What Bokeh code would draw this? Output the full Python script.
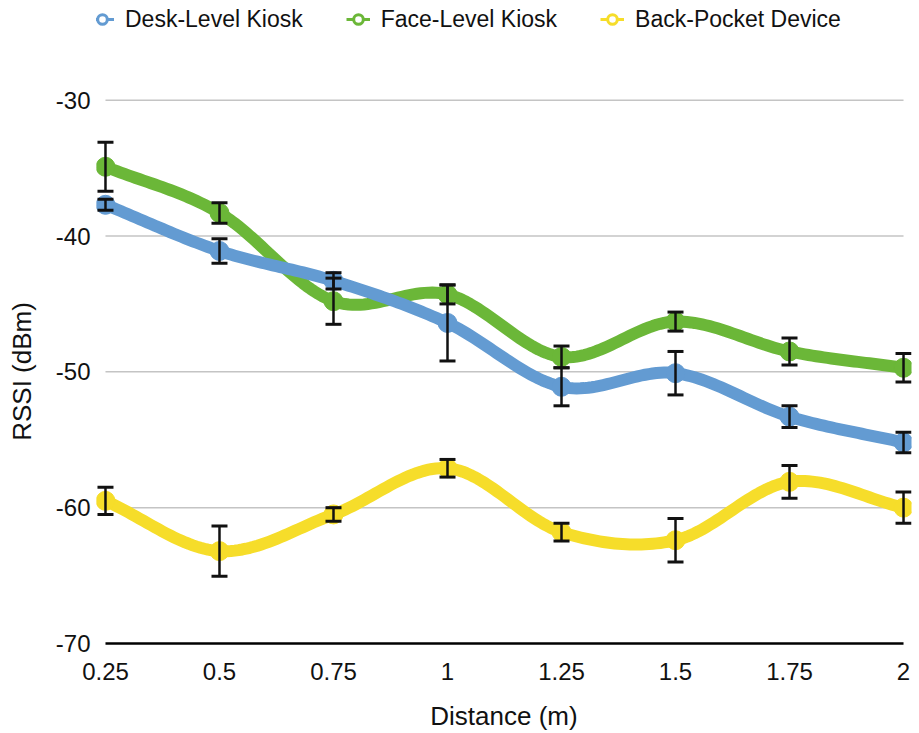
import numpy as np
from bokeh.plotting import figure
from bokeh.layouts import column
from bokeh.models import Range1d, FixedTicker, Legend, LegendItem, Whisker, TeeHead, ColumnDataSource
from bokeh.embed import file_html
from bokeh.resources import INLINE

# ---- data ----
distance = [0.25, 0.5, 0.75, 1.0, 1.25, 1.5, 1.75, 2.0]
x_tick_labels = ["0.25", "0.5", "0.75", "1", "1.25", "1.5", "1.75", "2"]
y_ticks = [-70, -60, -50, -40, -30]
y_tick_labels = ["-70", "-60", "-50", "-40", "-30"]

series_names = ["Desk-Level Kiosk", "Face-Level Kiosk", "Back-Pocket Device"]
desk = [-37.7, -41.1, -43.3, -46.4, -51.1, -50.1, -53.3, -55.2]
desk_err = [0.4, 0.9, 0.6, 2.8, 1.4, 1.6, 0.8, 0.75]
face = [-34.9, -38.3, -44.8, -44.3, -48.9, -46.3, -48.5, -49.7]
face_err = [1.8, 0.75, 1.7, 0.7, 0.8, 0.7, 1.0, 1.05]
back = [-59.5, -63.2, -60.5, -57.1, -61.8, -62.4, -58.1, -60.0]
back_err = [1.0, 1.85, 0.5, 0.65, 0.65, 1.6, 1.2, 1.15]

colors = ["#639BD2", "#6BB738", "#F6DD2A"]
FONT = "Liberation Sans"


def smooth(xs, ys, n=30):
    """Cubic Hermite (Catmull-Rom style) rendering of the series line."""
    x = np.asarray(xs, float)
    y = np.asarray(ys, float)
    m = np.empty_like(y)
    m[1:-1] = (y[2:] - y[:-2]) / (x[2:] - x[:-2])
    m[0] = (y[1] - y[0]) / (x[1] - x[0])
    m[-1] = (y[-1] - y[-2]) / (x[-1] - x[-2])
    out_x, out_y = [], []
    for i in range(len(x) - 1):
        h = x[i + 1] - x[i]
        t = np.linspace(0, 1, n, endpoint=False)
        h00 = 2 * t**3 - 3 * t**2 + 1
        h10 = t**3 - 2 * t**2 + t
        h01 = -2 * t**3 + 3 * t**2
        h11 = t**3 - t**2
        out_x.extend(x[i] + t * h)
        out_y.extend(h00 * y[i] + h10 * h * m[i] + h01 * y[i + 1] + h11 * h * m[i + 1])
    out_x.append(x[-1])
    out_y.append(y[-1])
    return out_x, out_y


vals = [desk, face, back]
errs = [desk_err, face_err, back_err]

# ---- legend strip (series drawn off-screen there, only the legend shows) ----
lg = figure(width=919, height=45, x_range=Range1d(10, 11), y_range=Range1d(10, 11),
            x_axis_type=None, y_axis_type=None, output_backend="svg", toolbar_location=None,
            min_border_left=0, min_border_right=0, min_border_top=0, min_border_bottom=0)
lg.outline_line_color = None
items = []
for i in range(3):
    rl = lg.line(x=distance, y=vals[i], line_color=colors[i], line_width=3)
    rs = lg.scatter(x=distance, y=vals[i], size=11, fill_color="white", line_color=colors[i], line_width=3)
    items.append(LegendItem(label=series_names[i], renderers=[rl, rs]))
legend = Legend(items=items, orientation="horizontal", location=(-6, 11),
                label_text_font=FONT, label_text_font_size="23px", label_text_color="#111111",
                glyph_width=24, glyph_height=30, label_standoff=11, spacing=43,
                padding=0, margin=0, border_line_color=None, background_fill_alpha=0,
                label_height=28)
lg.add_layout(legend)

# ---- main chart ----
p = figure(width=919, height=688,
           x_range=Range1d(0.2303, 2.0175), y_range=Range1d(-70.15, -29.8),
           output_backend="svg", toolbar_location=None,
           min_border_left=96, min_border_right=8, min_border_top=52, min_border_bottom=87)
p.outline_line_color = None
p.xgrid.visible = False
p.ygrid.visible = False

# gridlines and baseline from tick arrays
grid_y = y_ticks[1:]
p.segment(x0=[distance[0]] * len(grid_y), x1=[distance[-1]] * len(grid_y),
          y0=grid_y, y1=grid_y, line_color="#c4c4c4", line_width=1.5)
p.segment(x0=[distance[0]], x1=[distance[-1]], y0=[y_ticks[0]], y1=[y_ticks[0]],
          line_color="black", line_width=2.5)

# series: draw green first so blue sits on top, then yellow
order = [1, 0, 2]
for i in order:
    sx, sy = smooth(distance, vals[i])
    p.line(sx, sy, line_color=colors[i], line_width=12, line_join="round", line_cap="round")
    p.scatter(distance, vals[i], size=19, fill_color=colors[i], line_color=colors[i])

for i in order:
    src = ColumnDataSource(dict(
        base=distance,
        upper=[v + e for v, e in zip(vals[i], errs[i])],
        lower=[v - e for v, e in zip(vals[i], errs[i])]))
    w = Whisker(source=src, base="base", upper="upper", lower="lower",
                line_color="#111111", line_width=2.5, level="overlay",
                upper_head=TeeHead(size=16, line_width=3, line_color="#111111"),
                lower_head=TeeHead(size=16, line_width=3, line_color="#111111"))
    p.add_layout(w)

# axes
xa = p.xaxis[0]
xa.ticker = FixedTicker(ticks=distance)
xa.major_label_overrides = dict(zip(distance, x_tick_labels))
xa.axis_line_color = None
xa.major_tick_line_color = None
xa.minor_tick_line_color = None
xa.major_tick_out = 0
xa.major_tick_in = 0
xa.major_label_standoff = 17
xa.major_label_text_font = FONT
xa.major_label_text_font_size = "24px"
xa.major_label_text_color = "#111111"
xa.axis_label = "Distance (m)"
xa.axis_label_text_font = FONT
xa.axis_label_text_font_size = "26px"
xa.axis_label_text_font_style = "normal"
xa.axis_label_text_color = "#111111"
xa.axis_label_standoff = 18

ya = p.yaxis[0]
ya.ticker = FixedTicker(ticks=y_ticks)
ya.major_label_overrides = dict(zip(y_ticks, y_tick_labels))
ya.axis_line_color = None
ya.major_tick_line_color = None
ya.minor_tick_line_color = None
ya.major_tick_out = 0
ya.major_tick_in = 0
ya.major_label_standoff = 6
ya.major_label_text_font = FONT
ya.major_label_text_font_size = "24px"
ya.major_label_text_color = "#111111"
ya.axis_label = "RSSI (dBm)"
ya.axis_label_text_font = FONT
ya.axis_label_text_font_size = "26px"
ya.axis_label_text_font_style = "normal"
ya.axis_label_text_color = "#111111"
ya.axis_label_standoff = 16

layout = column(lg, p, spacing=0)
open("out.html", "w").write(file_html(layout, INLINE))
